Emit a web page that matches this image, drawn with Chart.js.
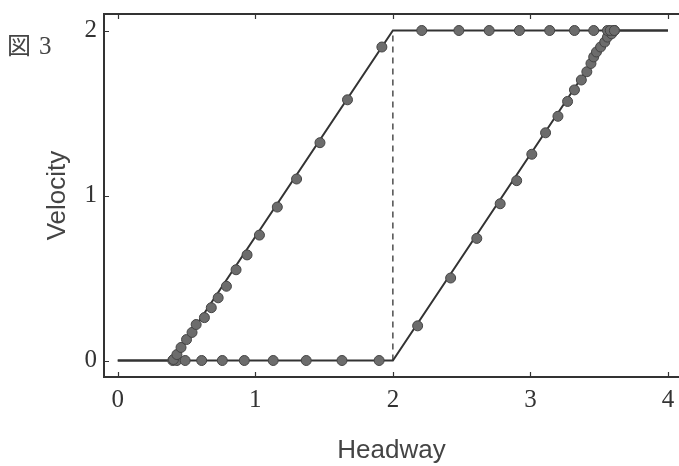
<!DOCTYPE html>
<html>
<head>
<meta charset="utf-8">
<script src="https://cdn.jsdelivr.net/npm/chart.js@4.4.1/dist/chart.umd.min.js"></script>
<style>
  html, body { margin: 0; padding: 0; background: #fff; overflow: hidden; }
  #wrap { width: 679px; height: 466px; position: relative; }
</style>
</head>
<body>
<div id="wrap"><canvas id="chart"></canvas></div>
<script>
// tick values
const xTickValues = [0, 1, 2, 3, 4];
const yTickValues = [0, 1, 2];

// solid branches of the loop
const branchAX = [0, 0.4, 2, 4];
const branchAY = [0, 0, 2, 2];
const branchBX = [0, 2, 3.6, 4];
const branchBY = [0, 0, 2, 2];

// dashed jump at headway 2
const jumpX = [2, 2];
const jumpY = [0, 2];

const leftRiseX = [0.405, 0.43, 0.46, 0.50, 0.54, 0.57, 0.63, 0.68, 0.73, 0.79, 0.86, 0.94, 1.03, 1.16, 1.30, 1.47, 1.67, 1.92];
const leftRiseY = [0.006, 0.036, 0.079, 0.127, 0.17, 0.218, 0.26, 0.32, 0.38, 0.45, 0.55, 0.64, 0.76, 0.93, 1.10, 1.32, 1.58, 1.90];
const bottomX = [0.40, 0.43, 0.49, 0.61, 0.76, 0.92, 1.13, 1.37, 1.63, 1.90];
const bottomY = [0, 0, 0, 0, 0, 0, 0, 0, 0, 0];
const topX = [2.21, 2.48, 2.70, 2.92, 3.14, 3.32, 3.46, 3.56, 3.58, 3.61];
const topY = [2, 2, 2, 2, 2, 2, 2, 2, 2, 2];
const rightRiseX = [2.18, 2.42, 2.61, 2.78, 2.90, 3.01, 3.11, 3.20, 3.27, 3.32, 3.37, 3.41, 3.44, 3.46, 3.48, 3.51, 3.54, 3.56, 3.59, 3.61];
const rightRiseY = [0.21, 0.50, 0.74, 0.95, 1.09, 1.25, 1.38, 1.48, 1.57, 1.64, 1.70, 1.75, 1.80, 1.84, 1.87, 1.90, 1.93, 1.96, 1.98, 2.0];

const INK = '#333';
const DOT_FILL = '#6c6c6c';
const DOT_EDGE = '#444';

function toPoints(xs, ys) {
  return xs.map((x, i) => ({ x, y: ys[i] }));
}

function lineSet(xs, ys, dash) {
  return {
    type: 'scatter',
    data: toPoints(xs, ys),
    showLine: true,
    borderColor: INK,
    borderWidth: dash ? 1.3 : 2,
    borderDash: dash || [],
    pointRadius: 0,
    pointHoverRadius: 0,
    tension: 0,
    order: 2,
  };
}

function dotSet(xs, ys) {
  return {
    type: 'scatter',
    data: toPoints(xs, ys),
    showLine: false,
    pointRadius: 5,
    pointBackgroundColor: DOT_FILL,
    pointBorderColor: DOT_EDGE,
    pointBorderWidth: 1,
    order: 1,
  };
}

// the frame runs off the right edge, so no room is kept for edge labels
function noEdgePadding(scale) {
  scale.paddingTop = 0;
  scale.paddingBottom = 0;
  scale.paddingLeft = 0;
  scale.paddingRight = 0;
}

// inward tick marks, top frame line and the figure label
const framePlugin = {
  id: 'frame',
  afterDraw(chart) {
    const { ctx, chartArea, scales } = chart;
    ctx.save();
    ctx.strokeStyle = INK;
    ctx.lineWidth = 2;
    ctx.beginPath();
    ctx.moveTo(chartArea.left, chartArea.top);
    ctx.lineTo(chartArea.right, chartArea.top);
    ctx.stroke();

    ctx.lineWidth = 1.2;
    ctx.beginPath();
    xTickValues.forEach((v) => {
      const px = Math.round(scales.x.getPixelForValue(v)) + 0.5;
      ctx.moveTo(px, chartArea.bottom);
      ctx.lineTo(px, chartArea.bottom - 5);
      ctx.moveTo(px, chartArea.top);
      ctx.lineTo(px, chartArea.top + 5);
    });
    yTickValues.forEach((v) => {
      const py = Math.round(scales.y.getPixelForValue(v)) + 0.5;
      ctx.moveTo(chartArea.left, py);
      ctx.lineTo(chartArea.left + 5, py);
    });
    ctx.stroke();

    ctx.fillStyle = '#444';
    ctx.textBaseline = 'alphabetic';
    ctx.font = '24px "Noto Sans CJK JP"';
    ctx.fillText('図', 7, 54);
    ctx.font = '25px "Liberation Serif"';
    ctx.fillText('3', 39, 54);
    ctx.restore();
  },
};

new Chart(document.getElementById('chart'), {
  type: 'scatter',
  data: {
    datasets: [
      lineSet(branchAX, branchAY),
      lineSet(branchBX, branchBY),
      lineSet(jumpX, jumpY, [6, 5]),
      dotSet(leftRiseX, leftRiseY),
      dotSet(bottomX, bottomY),
      dotSet(topX, topY),
      dotSet(rightRiseX, rightRiseY),
    ],
  },
  options: {
    responsive: true,
    maintainAspectRatio: false,
    animation: false,
    layout: { autoPadding: false, padding: { top: 14, right: 0, bottom: 0, left: 0 } },
    plugins: {
      legend: { display: false },
      tooltip: { enabled: false },
    },
    scales: {
      x: {
        type: 'linear',
        min: -0.1,
        max: 4.08,
        afterBuildTicks(scale) { scale.ticks = xTickValues.map((value) => ({ value })); },
        afterFit(scale) { scale.height = 89; noEdgePadding(scale); },
        ticks: {
          color: '#333',
          padding: 8,
          font: { family: '"Liberation Serif", serif', size: 25 },
        },
        grid: { drawOnChartArea: false, drawTicks: false },
        border: { color: INK, width: 2 },
        title: {
          display: true,
          text: 'Headway',
          color: '#444',
          font: { family: '"Liberation Sans", Arial, sans-serif', size: 26 },
          padding: { top: 0, bottom: 0 },
        },
      },
      y: {
        type: 'linear',
        min: -0.1,
        max: 2.1,
        afterBuildTicks(scale) { scale.ticks = yTickValues.map((value) => ({ value })); },
        afterFit(scale) { scale.width = 104; noEdgePadding(scale); },
        ticks: {
          color: '#333',
          padding: 7,
          font: { family: '"Liberation Serif", serif', size: 25 },
        },
        grid: { drawOnChartArea: false, drawTicks: false },
        border: { color: INK, width: 2 },
        title: {
          display: true,
          text: 'Velocity',
          color: '#444',
          font: { family: '"Liberation Sans", Arial, sans-serif', size: 26 },
          padding: { top: 42, bottom: 0 },
        },
      },
    },
  },
  plugins: [framePlugin],
});
</script>
</body>
</html>
